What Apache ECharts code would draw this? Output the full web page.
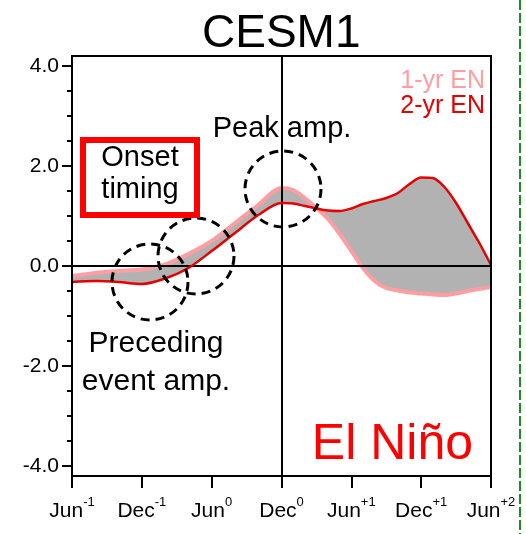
<!DOCTYPE html>
<html>
<head>
<meta charset="utf-8">
<script src="https://cdn.jsdelivr.net/npm/echarts@6/dist/echarts.min.js"></script>
<style>
  html, body { margin: 0; padding: 0; background: #fff; }
  #chart { width: 526px; height: 534px; }
</style>
</head>
<body>
<div id="chart"></div>
<script>
// Months counted from June of year -1 (0 = Jun-1, 36 = Jun+2)
const months = [0, 2, 4, 6, 8, 10, 12, 14, 16, 18, 19, 20, 21, 22, 23, 24, 25, 26, 27, 28, 29, 30, 31, 32, 33, 34, 35, 36];

// Composite Niño index, single-year El Niño events
const oneYearEN = [-0.20, -0.14, -0.10, -0.07, 0.03, 0.24, 0.50, 0.86, 1.22, 1.56, 1.52, 1.36, 1.16, 0.94, 0.64, 0.30, -0.04, -0.30, -0.44, -0.49, -0.53, -0.55, -0.57, -0.58, -0.55, -0.50, -0.46, -0.42];

// Composite Niño index, multi-year (2-yr) El Niño events
const twoYearEN = [-0.32, -0.30, -0.32, -0.36, -0.25, -0.04, 0.30, 0.66, 1.02, 1.26, 1.25, 1.20, 1.15, 1.11, 1.10, 1.15, 1.24, 1.30, 1.36, 1.46, 1.64, 1.77, 1.76, 1.58, 1.26, 0.86, 0.46, 0.02];

// x-axis ticks: month position, label, superscript year
const tickMonths = [0, 6, 12, 18, 24, 30, 36];
const tickNames = ['Jun', 'Dec', 'Jun', 'Dec', 'Jun', 'Dec', 'Jun'];
const tickSups = ['-1', '-1', '0', '0', '+1', '+1', '+2'];

// y-axis ticks
const yMajor = [-4, -2, 0, 2, 4];
const yMinor = [-3.5, -3, -2.5, -1.5, -1, -0.5, 0.5, 1, 1.5, 2.5, 3, 3.5];

const FONT = 'Liberation Sans';
const PINK = '#ff9ea2';
const RED = '#e60000';
const SHADE = '#b2b2b2';

const pairs = (ys) => months.map((m, i) => [m, ys[i]]);
// envelope of the two composites: shaded between them
const upperEnv = months.map((m, i) => [m, Math.max(oneYearEN[i], twoYearEN[i])]);
const lowerEnv = months.map((m, i) => [m, Math.min(oneYearEN[i], twoYearEN[i])]);

const chart = echarts.init(document.getElementById('chart'), null, { renderer: 'canvas' });

const option = {
  animation: false,
  backgroundColor: '#fff',
  title: {
    text: 'CESM1',
    left: 197,
    top: 6,
    textStyle: { fontFamily: FONT, fontSize: 46, fontWeight: 'normal', color: '#000' }
  },
  legend: {
    orient: 'vertical',
    right: 36,
    top: 64,
    itemGap: 0,
    icon: 'none',
    itemWidth: 0,
    itemHeight: 0,
    selectedMode: false,
    textStyle: { fontFamily: FONT, fontSize: 25 },
    data: [
      { name: '1-yr EN', textStyle: { color: PINK } },
      { name: '2-yr EN', textStyle: { color: RED } }
    ]
  },
  grid: {
    left: 72, right: 35, top: 56, bottom: 58, z: 10,
    show: true, borderColor: '#000', borderWidth: 2, backgroundColor: 'transparent'
  },
  xAxis: {
    type: 'value',
    z: 10,
    min: 0, max: 36, interval: 6,
    axisLine: { show: true, onZero: false, lineStyle: { color: '#000', width: 2 } },
    axisTick: { show: true, inside: false, length: 12, lineStyle: { color: '#000', width: 2 } },
    splitLine: { show: false },
    axisLabel: {
      margin: 20,
      color: '#000',
      formatter: (v) => {
        const i = tickMonths.indexOf(v);
        return i < 0 ? '' : '{b|' + tickNames[i] + '}{s|' + tickSups[i] + '}';
      },
      rich: {
        b: { fontFamily: FONT, fontSize: 21, color: '#000', verticalAlign: 'bottom', lineHeight: 26 },
        s: { fontFamily: FONT, fontSize: 13, color: '#000', verticalAlign: 'top', lineHeight: 26 }
      }
    }
  },
  yAxis: [
    {
      type: 'value',
      z: 10,
      min: -4.2, max: 4.2,
      axisLine: { show: true, onZero: false, lineStyle: { color: '#000', width: 2 } },
      axisTick: { show: true, inside: false, length: 10, customValues: yMajor, lineStyle: { color: '#000', width: 2 } },
      axisLabel: {
        show: true, margin: 13, customValues: yMajor,
        fontFamily: FONT, fontSize: 21, color: '#000',
        formatter: (v) => v.toFixed(1)
      },
      splitLine: { show: false }
    },
    {
      type: 'value',
      z: 10,
      min: -4.2, max: 4.2,
      position: 'left',
      axisLine: { show: false, onZero: false },
      axisTick: { show: true, inside: false, length: 5, customValues: yMinor, lineStyle: { color: '#000', width: 2 } },
      axisLabel: { show: false },
      splitLine: { show: false }
    }
  ],
  series: [
    {
      // gray from the upper envelope down to the axis floor
      name: 'upperEnv',
      type: 'line',
      smooth: 0.3,
      symbol: 'none',
      lineStyle: { width: 0, opacity: 0 },
      areaStyle: { color: SHADE, opacity: 1, origin: 'start' },
      silent: true,
      z: 1,
      data: upperEnv
    },
    {
      // white below the lower envelope leaves only the band between curves
      name: 'lowerEnv',
      type: 'line',
      smooth: 0.3,
      symbol: 'none',
      lineStyle: { width: 0, opacity: 0 },
      areaStyle: { color: '#fff', opacity: 1, origin: 'start' },
      silent: true,
      z: 2,
      data: lowerEnv
    },
    {
      name: 'ref',
      type: 'line',
      data: [],
      z: 3,
      markLine: {
        silent: true,
        symbol: 'none',
        label: { show: false },
        lineStyle: { color: '#000', width: 2, type: 'solid' },
        data: [{ yAxis: 0 }, { xAxis: tickMonths[3] }]
      }
    },
    {
      name: '1-yr EN',
      type: 'line',
      smooth: 0.3,
      symbol: 'none',
      color: PINK,
      lineStyle: { color: PINK, width: 4 },
      z: 4,
      data: pairs(oneYearEN)
    },
    {
      name: '2-yr EN',
      type: 'line',
      smooth: 0.3,
      symbol: 'none',
      color: RED,
      lineStyle: { color: RED, width: 2.5 },
      z: 5,
      data: pairs(twoYearEN)
    }
  ],
  graphic: [
    // dashed circles marking the event characteristics
    { type: 'circle', shape: { cx: 150, cy: 282, r: 38 }, style: { fill: 'none', stroke: '#000', lineWidth: 3, lineDash: [9, 6] }, z: 10 },
    { type: 'circle', shape: { cx: 196, cy: 256, r: 38 }, style: { fill: 'none', stroke: '#000', lineWidth: 3, lineDash: [9, 6] }, z: 10 },
    { type: 'circle', shape: { cx: 283, cy: 189, r: 38 }, style: { fill: 'none', stroke: '#000', lineWidth: 3, lineDash: [9, 6] }, z: 10 },
    // onset timing box
    { type: 'rect', shape: { x: 83, y: 140, width: 114, height: 75 }, style: { fill: '#fff', stroke: '#ff0000', lineWidth: 6 }, z: 10 },
    { type: 'text', x: 140, y: 158, style: { text: 'Onset', font: '29px "Liberation Sans"', fill: '#000', align: 'center', verticalAlign: 'middle' }, z: 11 },
    { type: 'text', x: 140, y: 190, style: { text: 'timing', font: '29px "Liberation Sans"', fill: '#000', align: 'center', verticalAlign: 'middle' }, z: 11 },
    { type: 'text', x: 282, y: 129, style: { text: 'Peak amp.', font: '29px "Liberation Sans"', fill: '#000', align: 'center', verticalAlign: 'middle' }, z: 11 },
    { type: 'text', x: 156, y: 344, style: { text: 'Preceding', font: '30px "Liberation Sans"', fill: '#000', align: 'center', verticalAlign: 'middle' }, z: 11 },
    { type: 'text', x: 156, y: 382, style: { text: 'event amp.', font: '30px "Liberation Sans"', fill: '#000', align: 'center', verticalAlign: 'middle' }, z: 11 },
    { type: 'text', x: 473, y: 445, style: { text: 'El Niño', font: '50px "Liberation Sans"', fill: '#ff0000', align: 'right', verticalAlign: 'middle' }, z: 11 },
    // panel separator
    { type: 'line', shape: { x1: 520, y1: 0, x2: 520, y2: 534 }, style: { stroke: '#1e8c1e', lineWidth: 2, lineDash: [10, 3] }, z: 11 }
  ]
};

chart.setOption(option);
</script>
</body>
</html>
